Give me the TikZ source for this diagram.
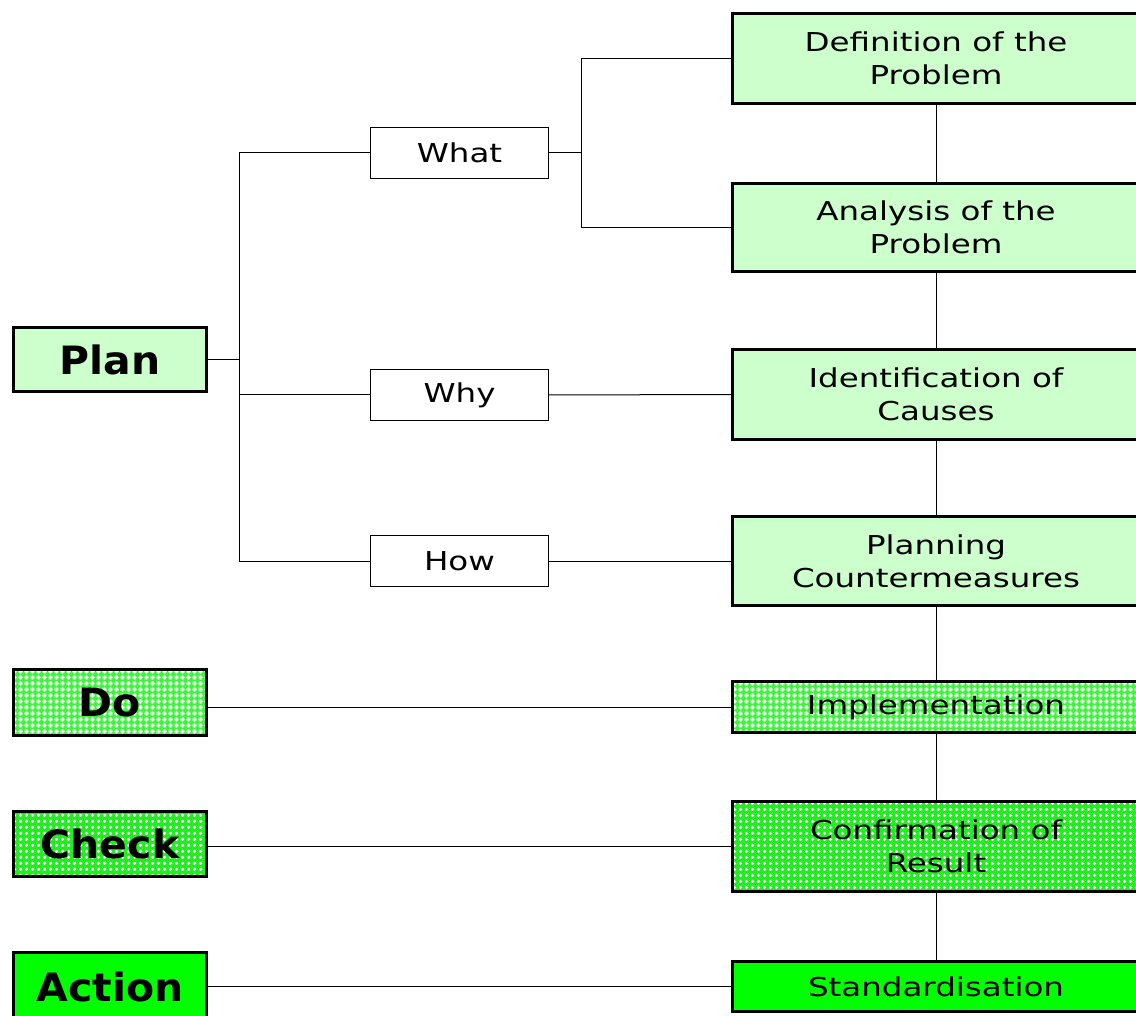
\documentclass[tikz,border=0pt]{standalone}
\usepackage{fontspec}
\setmainfont{DejaVu Sans}
\newfontfamily\widefont[FakeStretch=1.25]{DejaVu Sans}
\newfontfamily\boldwide[FakeStretch=1.05]{DejaVu Sans Bold}
\usetikzlibrary{patterns}
\pgfdeclarepatternformonly{bigplus}{\pgfpoint{0pt}{0pt}}{\pgfpoint{6pt}{6pt}}{\pgfpoint{6pt}{6pt}}{%
  \pgfpathrectangle{\pgfpoint{2pt}{0.5pt}}{\pgfpoint{2pt}{5pt}}%
  \pgfpathrectangle{\pgfpoint{0.5pt}{2pt}}{\pgfpoint{5pt}{2pt}}%
  \pgfusepath{fill}}
\pgfdeclarepatternformonly{smallplus}{\pgfpoint{0pt}{0pt}}{\pgfpoint{6pt}{6pt}}{\pgfpoint{6pt}{6pt}}{%
  \pgfpathrectangle{\pgfpoint{2.25pt}{1.25pt}}{\pgfpoint{1.5pt}{3.5pt}}%
  \pgfpathrectangle{\pgfpoint{1.25pt}{2.25pt}}{\pgfpoint{3.5pt}{1.5pt}}%
  \pgfusepath{fill}}
\begin{document}
\begin{tikzpicture}[x=1pt,y=-1pt,
  box/.style={draw=black,line width=3pt,minimum width=193,align=center,inner sep=0pt,
    font=\fontsize{26}{33}\widefont},
  left/.style={box,font=\fontsize{39}{42}\boldwide},
  small/.style={draw=black,line width=1pt,fill=white,minimum width=178,minimum height=51,inner sep=0pt,
    font=\fontsize{26}{30}\widefont},
  right/.style={box,minimum width=407},
  pale/.style={fill={rgb,255:red,204;green,255;blue,204}},
  dotsA/.style={fill={rgb,255:red,60;green,245;blue,60},postaction={pattern=bigplus,pattern color=white},
    postaction={draw=black,line width=3pt}},
  dotsB/.style={fill={rgb,255:red,30;green,240;blue,30},postaction={pattern=smallplus,pattern color=white},
    postaction={draw=black,line width=3pt}},
  full/.style={fill={rgb,255:red,0;green,255;blue,0}},
  conn/.style={line width=1pt}]
\useasboundingbox (0,0) rectangle (1136,1016);
\begin{scope}
\clip (0,0) rectangle (1136,1016);
% left boxes
\node[left,pale,minimum height=64] (plan) at (110,359.5) {Plan};
\node[left,dotsA,minimum height=66] (do) at (110,702.5) {Do};
\node[left,dotsB,minimum height=65] (check) at (110,844) {Check};
\node[left,full,minimum height=70] (action) at (110,987) {Action};
% middle boxes
\node[small] (what) at (459.5,153) {What};
\node[small] (why) at (459.5,395) {Why};
\node[small] (how) at (459.5,561) {How};
% right boxes
\node[right,pale,minimum height=90] (def) at (936,58.5) {Definition of the\\Problem};
\node[right,pale,minimum height=88] (ana) at (936,227.5) {Analysis of the\\Problem};
\node[right,pale,minimum height=90] (ident) at (936,394.5) {Identification of\\Causes};
\node[right,pale,minimum height=89] (cm) at (936,561) {Planning\\Countermeasures};
\node[right,dotsA,minimum height=51] (impl) at (936,707) {Implementation};
\node[right,dotsB,minimum height=90] (conf) at (936,846.5) {Confirmation of\\Result};
\node[right,full,minimum height=50] (std) at (936,986.5) {Standardisation};
% connectors
\draw[conn] (plan.east) -- ++(31,0) coordinate (pj);
\draw[conn] (pj |- what.west) -- (pj |- how.west);
\draw[conn] (what.west) -- (what.west -| pj);
\draw[conn] (why.west) -- (why.west -| pj);
\draw[conn] (how.west) -- (how.west -| pj);
\draw[conn] (what.east) -- ++(32,0) coordinate (wj);
\draw[conn] (wj |- def.west) -- (wj |- ana.west);
\draw[conn] (wj |- def.west) -- (def.west);
\draw[conn] (wj |- ana.west) -- (ana.west);
\draw[conn] (why.east) -- (ident.west);
\draw[conn] (how.east) -- (cm.west);
\draw[conn] (impl.west -| do.east) -- (impl.west);
\draw[conn] (conf.west -| check.east) -- (conf.west);
\draw[conn] (std.west -| action.east) -- (std.west);
\draw[conn] (def.south) -- (ana.north);
\draw[conn] (ana.south) -- (ident.north);
\draw[conn] (ident.south) -- (cm.north);
\draw[conn] (cm.south) -- (impl.north);
\draw[conn] (impl.south) -- (conf.north);
\draw[conn] (conf.south) -- (std.north);
\end{scope}
\end{tikzpicture}
\end{document}
